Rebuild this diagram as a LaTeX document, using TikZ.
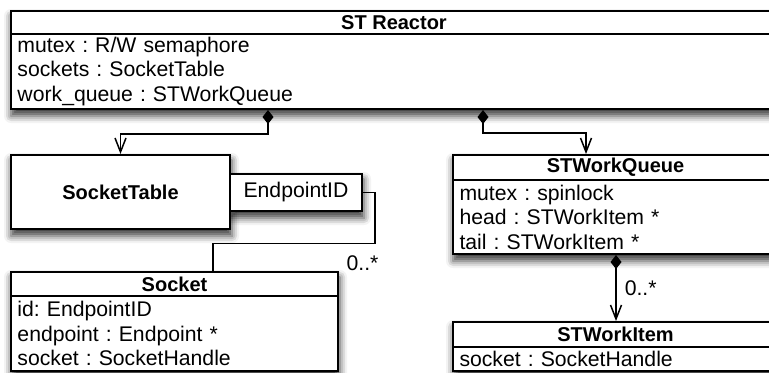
\documentclass[tikz,border=0pt]{standalone}
\usepackage{fontspec}
\setmainfont{Liberation Sans}
\frenchspacing
\usetikzlibrary{arrows.meta,calc,fit,backgrounds,shadows.blur}
\tikzset{
  classname/.style={draw, line width=1pt, fill=white, font=\bfseries,
    inner sep=0pt, minimum height=12pt},
  members/.style={draw, line width=1pt, fill=white, align=left,
    inner xsep=3.25pt, inner ysep=0pt},
  qualifier/.style={draw, line width=1pt, fill=white, inner sep=0pt},
  classshade/.style={fill=white, inner sep=0pt,
    blur shadow={shadow xshift=0.5pt, shadow yshift=-3pt,
      shadow blur radius=3.5pt, shadow opacity=75}},
  compose/.style={{Diamond[length=7pt,width=5.5pt]}-{Straight Barb[length=7pt,width=5.5pt]},
    line width=0.75pt},
  link/.style={line width=0.75pt},
  mult/.style={inner sep=0pt}
}

\begin{document}
\begin{tikzpicture}[x=0.5pt, y=-0.5pt, font=\fontsize{10.6}{12.25}\selectfont]
  \useasboundingbox (0,0) rectangle (769,372);
  \clip (0,0) rectangle (769,372);

  % the reactor
  \node[classname, minimum width=383pt, minimum height=11.5pt] (reactor) at (394,22.5) {ST Reactor};
  \node[members, text width=376.5pt, minimum height=37.5pt] (reactorattr) at (394,71.5)
    {mutex : R/W semaphore\\sockets : SocketTable\\work\_queue : STWorkQueue};

  % socket table, keyed by endpoint
  \node[classname, minimum width=109.5pt, minimum height=37pt] (socktable) at (120.5,192) {SocketTable};
  \node[qualifier, minimum width=66pt, minimum height=18.5pt] (endpointid) at (296,192.5) {EndpointID};

  \node[classname, minimum width=163.5pt, minimum height=12pt] (sock) at (174.5,284) {Socket};
  \node[members, text width=157pt, minimum height=37.5pt] (sockattr) at (174.5,333.5)
    {id: EndpointID\\endpoint : Endpoint *\\socket : SocketHandle};

  % work queue and its items
  \node[classname, minimum width=162.5pt, minimum height=12.5pt] (queue) at (615.5,167.5) {STWorkQueue};
  \node[members, text width=156pt, minimum height=37pt] (queueattr) at (615.5,217)
    {mutex : spinlock\\head : STWorkItem *\\tail : STWorkItem *};

  \node[classname, minimum width=162.5pt, minimum height=12.5pt] (item) at (615.5,334.5) {STWorkItem};
  \node[members, text width=156pt, minimum height=12pt] (itemattr) at (615.5,359) {socket : SocketHandle};

  % shadows behind the boxes
  \begin{scope}[on background layer]
    \node[classshade, fit=(reactor)(reactorattr)] (reactorshade) {};
    \node[classshade, fit=(socktable)] (socktableshade) {};
    \node[classshade, fit=(endpointid)] (endpointshade) {};
    \node[classshade, fit=(sock)(sockattr)] (sockshade) {};
    \node[classshade, fit=(queue)(queueattr)] (queueshade) {};
    \node[classshade, fit=(item)(itemattr)] (itemshade) {};
  \end{scope}

  \draw[compose] ([xshift=129pt]reactorattr.south west) -- ++(0,24) -| (socktable.north);
  \draw[compose] ([xshift=236.5pt]reactorattr.south west) -- ++(0,23) -| ([xshift=67pt]queue.north west);
  \draw[link] (endpointid.east) -- ++(12,0) -- ++(0,51) -| ([xshift=101.5pt]sock.north west);
  \node[mult] (tablemult) at (362.5,263) {0..*};
  \draw[compose] ([xshift=82pt]queueattr.south west) -- ([xshift=82pt]item.north west)
    node[mult, midway, anchor=west, xshift=4pt] (queuemult) {0..*};
\end{tikzpicture}
\end{document}
